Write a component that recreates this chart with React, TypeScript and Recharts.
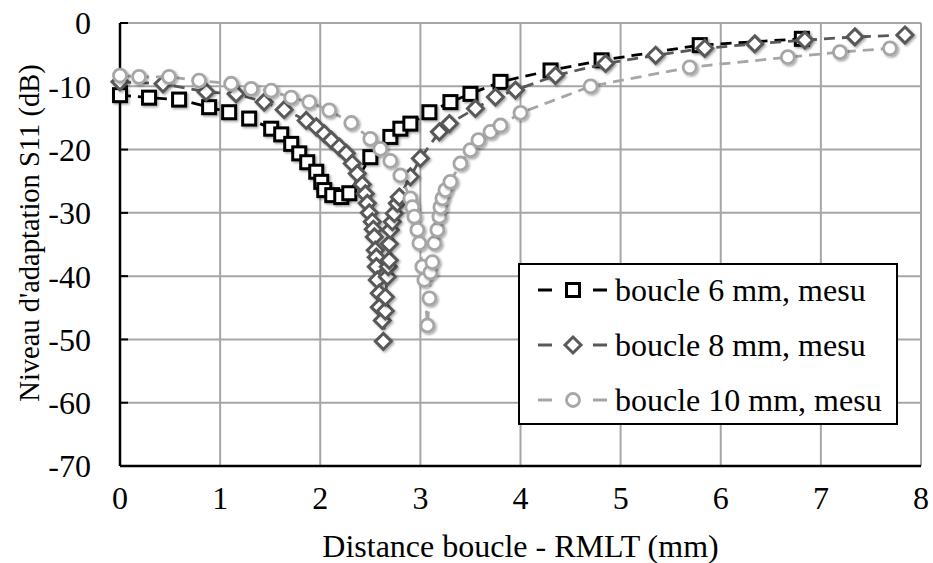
import { CartesianGrid, Legend, Scatter, ScatterChart, XAxis, YAxis } from "recharts";

const FONT = '"Liberation Serif", "Times New Roman", serif';

const X_TICKS = [0, 1, 2, 3, 4, 5, 6, 7, 8];
const Y_TICKS = [-70, -60, -50, -40, -30, -20, -10, 0];

// boucle 6 mm
const DIST_6MM = [
  0, 0.29, 0.59, 0.89, 1.09, 1.29, 1.51, 1.61, 1.71, 1.79, 1.87, 1.96, 2.01,
  2.04, 2.12, 2.21, 2.29, 2.5, 2.7, 2.8, 2.9, 3.09, 3.3, 3.5, 3.8, 4.3, 4.81,
  5.79, 6.81,
];
const S11_6MM = [
  -11.4, -11.8, -12.1, -13.3, -14.1, -15.1, -16.7, -17.6, -19.1, -20.6, -22.0,
  -23.5, -25.1, -26.4, -27.2, -27.5, -26.9, -21.2, -18.0, -16.7, -15.9, -14.1,
  -12.5, -11.2, -9.3, -7.5, -5.9, -3.5, -2.5,
];

// boucle 8 mm
const DIST_8MM = [
  0, 0.43, 0.86, 1.16, 1.44, 1.64, 1.86, 1.96, 2.04, 2.11, 2.19, 2.26, 2.32,
  2.37, 2.42, 2.45, 2.47, 2.49, 2.52, 2.53, 2.54, 2.55, 2.56, 2.56, 2.57, 2.59,
  2.59, 2.62, 2.63, 2.65, 2.65, 2.67, 2.68, 2.69, 2.69, 2.7, 2.72, 2.74, 2.77,
  2.79, 2.9, 3.0, 3.19, 3.29, 3.55, 3.75, 3.95, 4.35, 4.85, 5.35, 5.84, 6.34,
  6.84, 7.34, 7.84,
];
const S11_8MM = [
  -9.3, -9.6, -10.9, -11.2, -12.5, -13.7, -15.4, -16.4, -17.5, -18.5, -19.6,
  -20.6, -22.2, -23.8, -25.5, -27.0, -28.5, -30.0, -31.4, -32.6, -33.8, -35.9,
  -37.0, -38.5, -40.6, -42.7, -44.9, -47.0, -50.3, -45.5, -43.3, -40.1, -38.5,
  -37.5, -34.9, -32.7, -31.4, -30.1, -28.5, -27.5, -24.3, -21.4, -17.2, -15.9,
  -13.5, -11.7, -10.6, -8.3, -6.4, -5.1, -4.0, -3.3, -2.7, -2.2, -1.9,
];

// boucle 10 mm
const DIST_10MM = [
  0, 0.19, 0.49, 0.79, 1.11, 1.31, 1.51, 1.71, 1.89, 2.09, 2.31, 2.5, 2.6, 2.7,
  2.8, 2.9, 2.92, 2.94, 2.97, 2.99, 3.02, 3.04, 3.07, 3.09, 3.1, 3.12, 3.14,
  3.17, 3.19, 3.2, 3.22, 3.25, 3.3, 3.4, 3.5, 3.58, 3.7, 3.8, 4.0, 4.7, 5.69,
  6.67, 7.19, 7.69,
];
const S11_10MM = [
  -8.3, -8.5, -8.5, -9.1, -9.6, -10.4, -10.7, -11.8, -12.5, -13.8, -15.8, -18.3,
  -19.9, -21.8, -24.1, -27.7, -29.1, -30.6, -32.7, -34.8, -38.5, -40.6, -47.8,
  -43.5, -39.4, -37.8, -34.8, -32.7, -30.6, -29.1, -27.7, -26.4, -25.1, -22.2,
  -20.1, -18.5, -17.2, -16.2, -14.2, -10.0, -7.0, -5.4, -4.6, -4.0,
];

type MarkerKind = "square" | "diamond" | "circle";

const SERIES: {
  name: string;
  x: number[];
  y: number[];
  color: string;
  marker: MarkerKind;
}[] = [
  { name: "boucle 6 mm, mesu", x: DIST_6MM, y: S11_6MM, color: "#000000", marker: "square" },
  { name: "boucle 8 mm, mesu", x: DIST_8MM, y: S11_8MM, color: "#595959", marker: "diamond" },
  { name: "boucle 10 mm, mesu", x: DIST_10MM, y: S11_10MM, color: "#a6a6a6", marker: "circle" },
];

function Marker({
  kind,
  color,
  cx,
  cy,
  shadow = true,
}: {
  kind: MarkerKind;
  color: string;
  cx: number;
  cy: number;
  shadow?: boolean;
}) {
  const filter = shadow ? "url(#mk-shadow)" : undefined;
  if (kind === "square") {
    return (
      <rect x={cx - 6.5} y={cy - 6.5} width={13} height={13} fill="#fff" stroke={color} strokeWidth={3} filter={filter} />
    );
  }
  if (kind === "diamond") {
    const r = 8;
    return (
      <polygon
        points={`${cx},${cy - r} ${cx + r},${cy} ${cx},${cy + r} ${cx - r},${cy}`}
        fill="#fff"
        stroke={color}
        strokeWidth={3}
        filter={filter}
      />
    );
  }
  return <circle cx={cx} cy={cy} r={6.5} fill="#fff" stroke={color} strokeWidth={2.8} filter={filter} />;
}

function LegendBox() {
  return (
    <div
      style={{
        width: 380,
        height: 162,
        boxSizing: "border-box",
        border: "2px solid #000",
        background: "#fff",
        fontFamily: FONT,
        fontSize: 32,
        color: "#000",
      }}
    >
      <div style={{ marginTop: -2.5 }}>
        {SERIES.map((s) => (
          <div key={s.name} style={{ display: "flex", alignItems: "center", height: 55 }}>
            <svg width={92} height={30} style={{ flex: "none" }}>
              <line x1={18} x2={32} y1={15} y2={15} stroke={s.color} strokeWidth={3} />
              <Marker kind={s.marker} color={s.color} cx={53} cy={15} shadow={false} />
              <line x1={73} x2={87} y1={15} y2={15} stroke={s.color} strokeWidth={3} />
            </svg>
            <span style={{ marginLeft: 3, whiteSpace: "nowrap", lineHeight: 1 }}>{s.name}</span>
          </div>
        ))}
      </div>
    </div>
  );
}

const tickStyle = { fill: "#000", fontSize: 32, fontFamily: FONT };

export default function App() {
  return (
    <div style={{ position: "absolute", left: 0, top: 0, width: 933, height: 563, background: "#fff" }}>
      <svg width={0} height={0} style={{ position: "absolute" }}>
        <defs>
          <filter id="mk-shadow" x="-50%" y="-50%" width="200%" height="200%">
            <feDropShadow dx={1.5} dy={1.5} stdDeviation={1.2} floodColor="#000" floodOpacity={0.35} />
          </filter>
        </defs>
      </svg>
      <ScatterChart width={933} height={563} margin={{ top: 23, right: 12, bottom: 6, left: 0 }}>
        <CartesianGrid stroke="#a6a6a6" strokeWidth={2} />
        <XAxis
          type="number"
          dataKey="x"
          domain={[0, 8]}
          ticks={X_TICKS}
          interval={0}
          height={91}
          axisLine={{ stroke: "#000", strokeWidth: 2.5 }}
          tickLine={false}
          tickMargin={14}
          tick={tickStyle}
          label={() => (
            <text x={520.5} y={557} textAnchor="middle" fontFamily={FONT} fontSize={32} fill="#000">
              Distance boucle - RMLT (mm)
            </text>
          )}
        />
        <XAxis
          xAxisId="top"
          orientation="top"
          type="number"
          domain={[0, 8]}
          ticks={X_TICKS}
          allowDataOverflow
          height={0}
          tick={false}
          tickSize={-8}
          axisLine={{ stroke: "#000", strokeWidth: 2.5 }}
          tickLine={{ stroke: "#000", strokeWidth: 2 }}
        />
        <YAxis
          type="number"
          dataKey="y"
          domain={[-70, 0]}
          ticks={Y_TICKS}
          interval={0}
          width={120}
          tickSize={-8}
          tickMargin={37}
          axisLine={{ stroke: "#000", strokeWidth: 2.5 }}
          tickLine={{ stroke: "#000", strokeWidth: 2 }}
          tick={tickStyle}
          label={() => (
            <text
              x={0}
              y={0}
              transform="translate(39,233) rotate(-90)"
              textAnchor="middle"
              fontFamily={FONT}
              fontSize={28.5}
              fill="#000"
            >
              Niveau d'adaptation S11 (dB)
            </text>
          )}
        />
        <YAxis
          yAxisId="right"
          orientation="right"
          type="number"
          domain={[-70, 0]}
          allowDataOverflow
          width={0}
          tick={false}
          tickLine={false}
          axisLine={{ stroke: "#000", strokeWidth: 2.5 }}
        />
        {SERIES.map((s) => (
          <Scatter
            key={s.name}
            name={s.name}
            data={s.x.map((x, i) => ({ x, y: s.y[i] }))}
            fill={s.color}
            line={{ stroke: s.color, strokeWidth: 2.8, strokeDasharray: "11 7" }}
            lineType="joint"
            isAnimationActive={false}
            shape={(p: any) => <Marker kind={s.marker} color={s.color} cx={p.cx} cy={p.cy} />}
          />
        ))}
        <Legend
          layout="vertical"
          align="center"
          verticalAlign="middle"
          wrapperStyle={{ left: 518, top: 263, width: 380, height: 162 }}
          content={() => <LegendBox />}
        />
      </ScatterChart>
    </div>
  );
}
